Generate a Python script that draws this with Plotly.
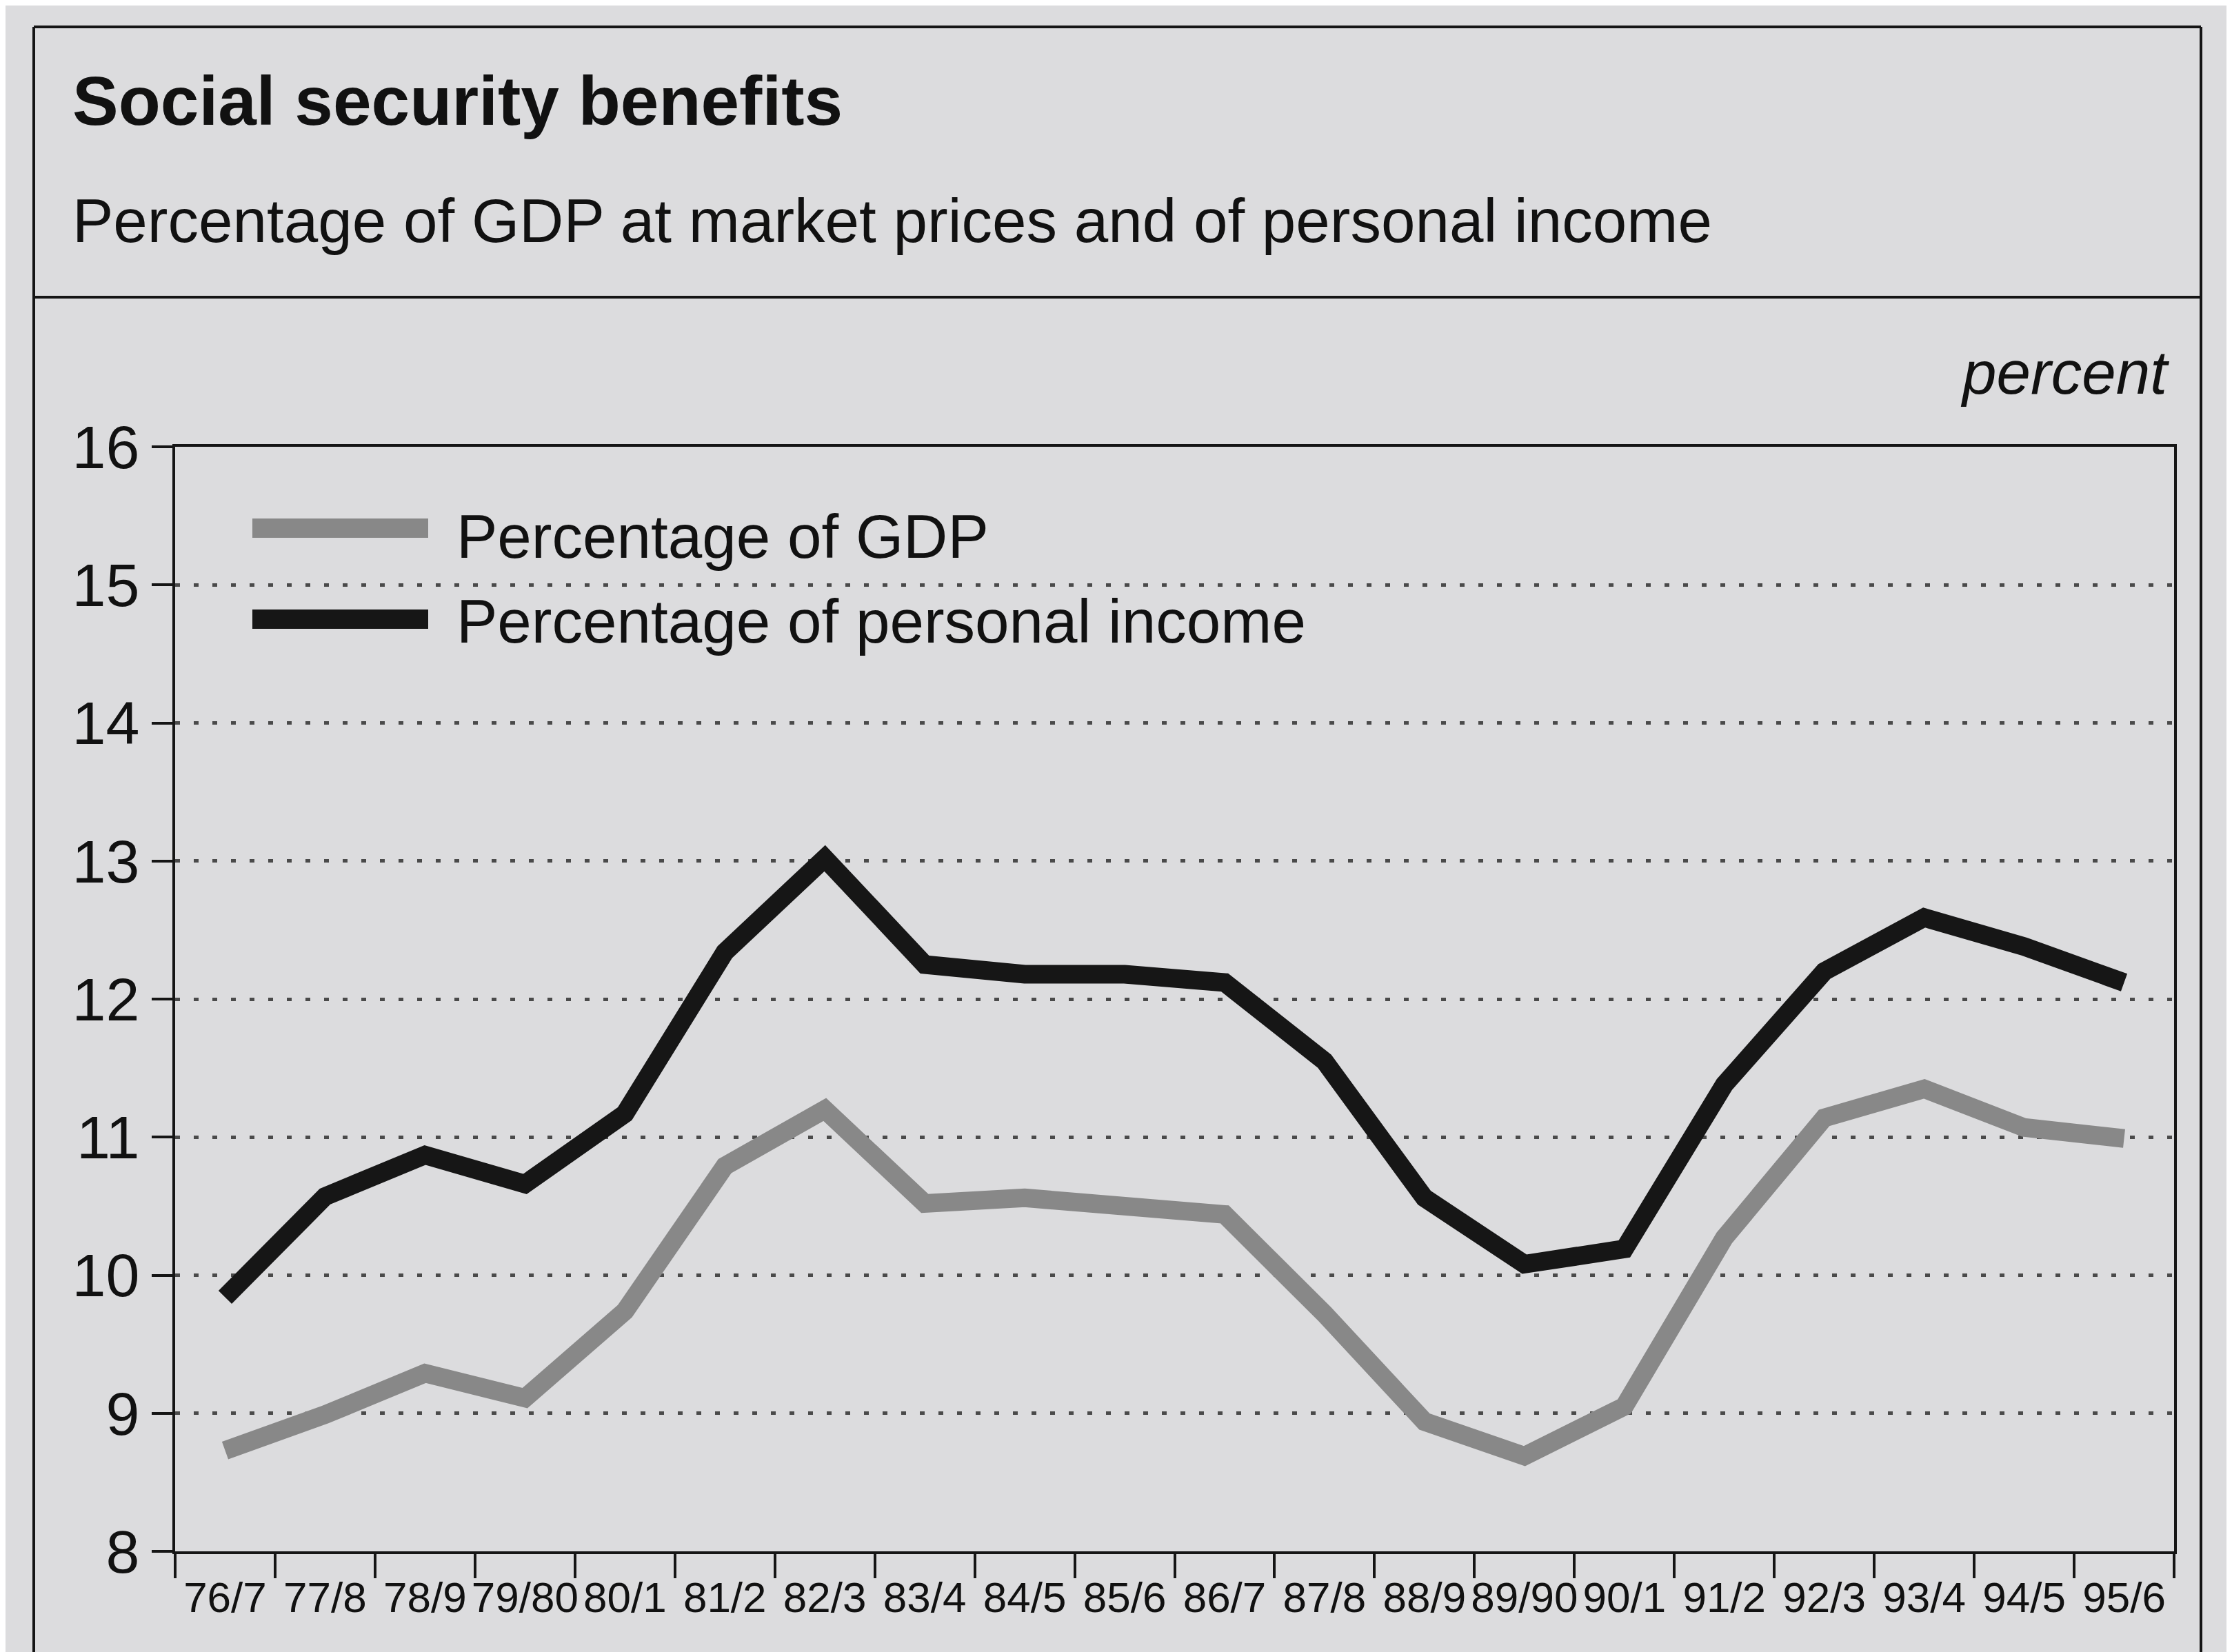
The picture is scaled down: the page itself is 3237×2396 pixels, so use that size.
import plotly.graph_objects as go

# ---- data ----
years = ["76/7", "77/8", "78/9", "79/80", "80/1", "81/2", "82/3", "83/4", "84/5", "85/6",
         "86/7", "87/8", "88/9", "89/90", "90/1", "91/2", "92/3", "93/4", "94/5", "95/6"]
pct_personal_income = [9.84, 10.57, 10.87, 10.66, 11.17, 12.34, 13.02, 12.25, 12.18, 12.18,
                       12.12, 11.55, 10.56, 10.08, 10.19, 11.38, 12.20, 12.59, 12.38, 12.12]
pct_gdp = [8.73, 8.99, 9.29, 9.11, 9.74, 10.79, 11.20, 10.52, 10.56, 10.51,
           10.44, 9.72, 8.94, 8.69, 9.05, 10.27, 11.14, 11.35, 11.07, 10.99]
y_ticks = [8, 9, 10, 11, 12, 13, 14, 15, 16]

series_names = ["Percentage of GDP", "Percentage of personal income"]
series_colors = ["#888888", "#161616"]

# ---- layout geometry (pixels) ----
FW, FH = 3237, 2396
L, R, T, B = 246, 3145, 640, 2242
W, H = R - L, B - T
BG = "#dcdcde"
INK = "#111111"
FONT = "Liberation Sans, Arial, Helvetica, sans-serif"


def px(x):
    return (x - L) / W


def py(y):
    return (B - y) / H


fig = go.Figure()
fig.add_trace(go.Scatter(x=years, y=pct_gdp, mode="lines", name=series_names[0],
                         line=dict(color=series_colors[0], width=27), showlegend=False))
fig.add_trace(go.Scatter(x=years, y=pct_personal_income, mode="lines", name=series_names[1],
                         line=dict(color=series_colors[1], width=27), showlegend=False))

shapes = []
# outer frame
frame = dict(type="line", xref="paper", yref="paper", line=dict(color="#151515", width=4))
shapes.append({**frame, "x0": px(41), "x1": px(3184), "y0": py(31), "y1": py(31)})
shapes.append({**frame, "x0": px(41), "x1": px(41), "y0": py(31), "y1": py(2450)})
shapes.append({**frame, "x0": px(3184), "x1": px(3184), "y0": py(31), "y1": py(2450)})
shapes.append({**frame, "x0": px(41), "x1": px(3184), "y0": py(423), "y1": py(423)})
# legend background covering gridline
shapes.append(dict(type="rect", xref="paper", yref="paper", layer="between",
                   x0=px(250), x1=px(1972), y0=py(810), y1=py(870),
                   fillcolor=BG, line=dict(width=0)))
# legend samples
for i, yc in enumerate([758, 890]):
    shapes.append(dict(type="rect", xref="paper", yref="paper",
                       x0=px(358), x1=px(613), y0=py(yc - 14), y1=py(yc + 14),
                       fillcolor=series_colors[i], line=dict(width=0)))

annotations = [
    dict(text="<b>Social security benefits</b>", xref="paper", yref="paper",
         x=px(95), y=py(138), xanchor="left", yanchor="middle", showarrow=False,
         font=dict(family=FONT, size=100, color=INK)),
    dict(text="Percentage of GDP at market prices and of personal income", xref="paper", yref="paper",
         x=px(95), y=py(312), xanchor="left", yanchor="middle", showarrow=False,
         font=dict(family=FONT, size=89, color=INK)),
    dict(text="<i>percent</i>", xref="paper", yref="paper",
         x=px(3140), y=py(532), xanchor="right", yanchor="middle", showarrow=False,
         font=dict(family=FONT, size=89, color=INK)),
]
for i, yc in enumerate([770, 893]):
    annotations.append(dict(text=series_names[i], xref="paper", yref="paper",
                            x=px(652), y=py(yc), xanchor="left", yanchor="middle", showarrow=False,
                            font=dict(family=FONT, size=89, color=INK)))

fig.update_layout(
    width=FW, height=FH,
    margin=dict(l=L, r=FW - R, t=T, b=FH - B),
    paper_bgcolor=BG, plot_bgcolor=BG,
    shapes=shapes, annotations=annotations,
    showlegend=False,
    font=dict(family=FONT, color=INK),
)
fig.update_xaxes(
    type="category", range=[-0.5, len(years) - 0.5],
    tickson="boundaries", ticks="outside", ticklen=35, tickwidth=4, tickcolor="#151515",
    tickangle=0, tickfont=dict(family=FONT, size=62, color=INK), ticklabelstandoff=10,
    showgrid=False, showline=True, linecolor="#151515", linewidth=4, mirror=True,
    zeroline=False,
)
fig.update_yaxes(
    range=[8, 16], tickvals=y_ticks, ticktext=[str(v) for v in y_ticks],
    ticks="outside", ticklen=30, tickwidth=4, tickcolor="#151515",
    tickfont=dict(family=FONT, size=88, color=INK),
    showgrid=True, gridcolor="#4a4a4a", gridwidth=5, griddash="7px,20px",
    showline=True, linecolor="#151515", linewidth=4, mirror=True,
    zeroline=False,
)

fig.write_html("out.html")
